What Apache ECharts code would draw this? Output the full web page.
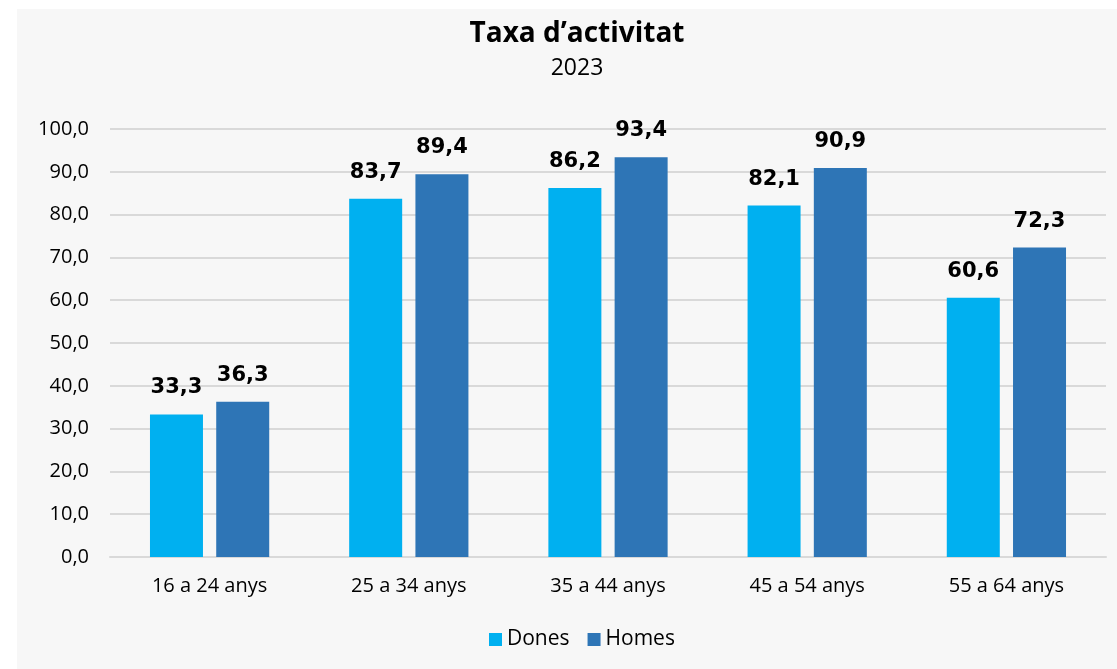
<!DOCTYPE html>
<html>
<head>
<meta charset="utf-8">
<script src="https://cdn.jsdelivr.net/npm/echarts@6/dist/echarts.min.js"></script>
<style>
  html, body { margin: 0; padding: 0; background: #ffffff; }
  .panel { position: absolute; left: 17px; top: 9px; right: 0; bottom: 0; background: #f7f7f7; }
  #chart { position: absolute; left: 0; top: 0; width: 1117px; height: 669px; }
</style>
</head>
<body>
<div class="panel"></div>
<div id="chart"></div>
<script>
const categories = ['16 a 24 anys', '25 a 34 anys', '35 a 44 anys', '45 a 54 anys', '55 a 64 anys']
const dones = [33.3, 83.7, 86.2, 82.1, 60.6]
const homes = [36.3, 89.4, 93.4, 90.9, 72.3]

const fmt = v => v.toFixed(1).replace('.', ',')
const axisFont = '"Open Sans", "Noto Sans", sans-serif'

const chart = echarts.init(document.getElementById('chart'))

function barSeries(name, data, color) {
  return {
    name,
    type: 'bar',
    data,
    barWidth: 53,
    barGap: '25%',
    itemStyle: { color },
    label: {
      show: true,
      position: 'top',
      distance: 16,
      formatter: p => fmt(p.value),
      fontFamily: '"DejaVu Sans", sans-serif',
      fontWeight: 'bold',
      fontSize: 21,
      color: '#000',
    },
  }
}

chart.setOption({
  animation: false,
  title: [
    {
      text: 'Taxa d’activitat',
      left: 572,
      top: 15,
      textAlign: 'center',
      textStyle: { fontFamily: axisFont, fontWeight: 'bold', fontSize: 28, color: '#000' },
    },
    {
      text: '2023',
      left: 572,
      top: 52,
      textAlign: 'center',
      textStyle: { fontFamily: axisFont, fontWeight: 'normal', fontSize: 23, color: '#000' },
    },
  ],
  legend: {
    top: 624,
    left: 484,
    itemWidth: 13,
    itemHeight: 13,
    itemGap: 18,
    icon: 'rect',
    textStyle: { fontFamily: axisFont, fontSize: 21, color: '#000' },
    data: ['Dones', 'Homes'],
  },
  grid: { left: 110, right: 11, top: 129, bottom: 112 },
  xAxis: {
    type: 'category',
    data: categories,
    axisLine: { lineStyle: { color: '#d9d9d9', width: 2 } },
    axisTick: { show: false },
    axisLabel: { fontFamily: axisFont, fontSize: 20, color: '#000', margin: 19 },
  },
  yAxis: {
    type: 'value',
    min: 0,
    max: 100,
    interval: 10,
    axisLine: { show: false },
    axisTick: { show: false },
    splitLine: { lineStyle: { color: '#d9d9d9', width: 2 } },
    axisLabel: { fontFamily: axisFont, fontSize: 20, color: '#000', margin: 21, formatter: v => fmt(v) },
  },
  series: [
    barSeries('Dones', dones, '#00b0f0'),
    barSeries('Homes', homes, '#2e75b6'),
  ],
})
</script>
</body>
</html>
